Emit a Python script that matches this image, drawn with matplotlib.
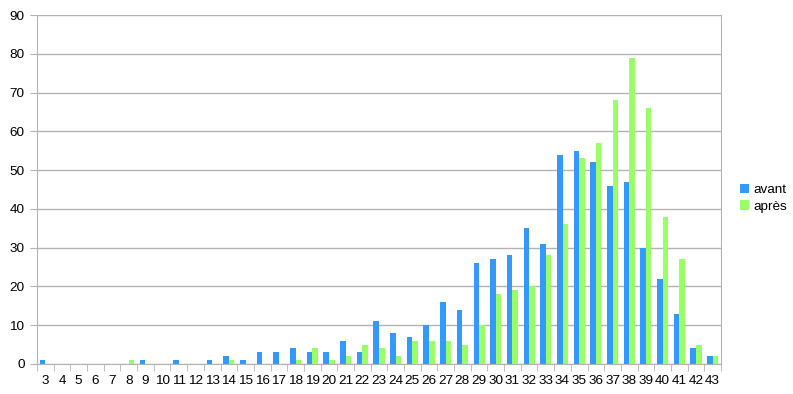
import matplotlib
matplotlib.use("Agg")
import matplotlib.pyplot as plt
import numpy as np

categories = list(range(3, 44))
avant = [1, 0, 0, 0, 0, 0, 1, 0, 1, 0, 1, 2, 1, 3, 3, 4, 3, 3, 6, 3,
         11, 8, 7, 10, 16, 14, 26, 27, 28, 35, 31, 54, 55, 52, 46, 47, 30, 22, 13, 4, 2]
apres = [0, 0, 0, 0, 0, 1, 0, 0, 0, 0, 0, 1, 0, 0, 0, 1, 4, 1, 2, 5,
         4, 2, 6, 6, 6, 5, 10, 18, 19, 20, 28, 36, 53, 57, 68, 79, 66, 38, 27, 5, 2]
series_names = ["avant", "après"]
colors = ["#3399ff", "#99ff66"]

plt.rcParams['font.family'] = ['Liberation Sans', 'DejaVu Sans']

fig = plt.figure(figsize=(7.93, 3.94), dpi=100)
ax = fig.add_axes([37/793, 30/394, (721-37)/793, (364-15)/394])

x = np.arange(len(categories))
w = 1/3
ax.bar(x - w/2, avant, width=w, color=colors[0], label=series_names[0])
ax.bar(x + w/2, apres, width=w, color=colors[1], label=series_names[1])

ax.set_xlim(-0.5, len(categories) - 0.5)
ax.set_ylim(0, 90)
ax.set_yticks(range(0, 91, 10))
ax.yaxis.grid(True, color="#b3b3b3", linewidth=1)
ax.set_axisbelow(True)

ax.set_xticks(x)
ax.set_xticklabels([str(c) for c in categories])
ax.set_xticks(np.arange(-0.5, len(categories), 1), minor=True)
ax.tick_params(axis='x', which='major', length=0, pad=8, labelsize=9.7)
ax.tick_params(axis='x', which='minor', length=5, color="#b3b3b3")
ax.tick_params(axis='y', length=5, color="#b3b3b3", labelsize=9.7, pad=4)

for s in ax.spines.values():
    s.set_color("#b3b3b3")
ax.spines['top'].set_visible(False)

ax.legend(loc='center left', bbox_to_anchor=(1.01, 0.475), frameon=False,
          fontsize=9.7, handlelength=0.7, handleheight=0.7, handletextpad=0.3,
          labelspacing=0.3)

fig.savefig("out.png", dpi=100)
